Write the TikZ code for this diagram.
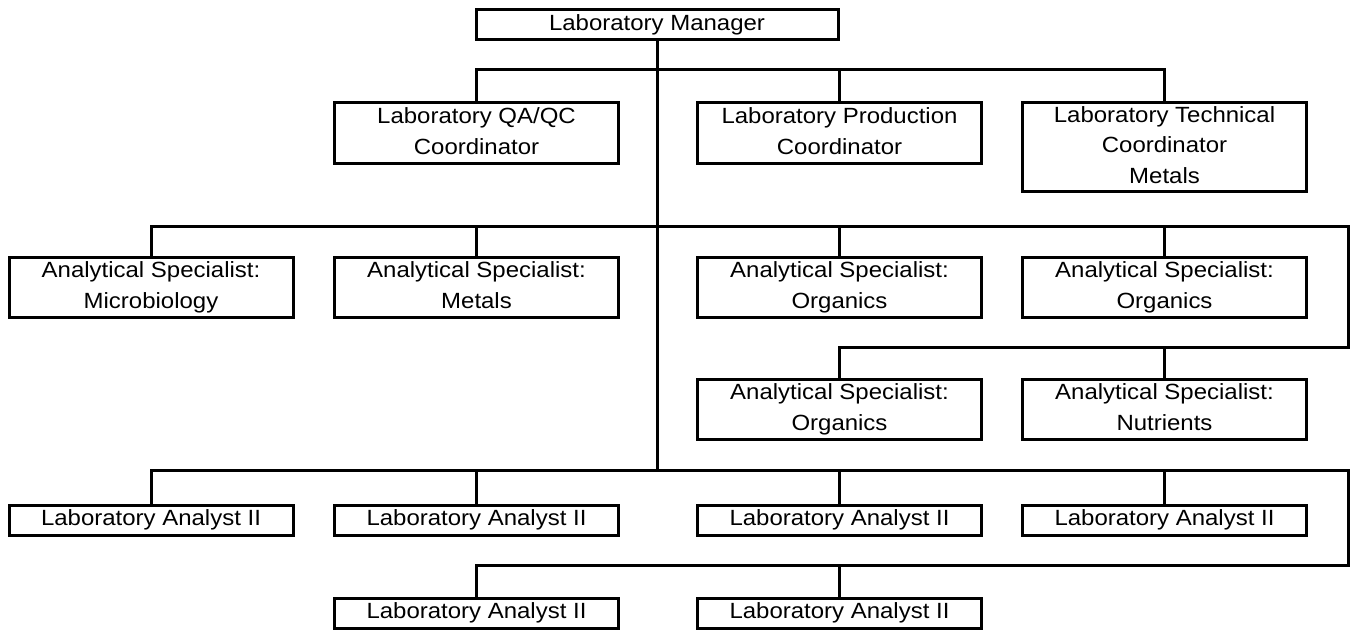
\documentclass[tikz,border=0pt]{standalone}
\usepackage{fontspec}
\setmainfont{Liberation Sans}[FakeStretch=1.09]
\usepackage{tikz}

\begin{document}
\begin{tikzpicture}[x=0.5pt, y=-0.5pt, line width=1.5pt,
    caixa/.style={draw, line width=1.5pt, minimum width=142pt, minimum height=30pt,
        inner sep=0pt, align=center, text depth=0.22em,
        font=\fontsize{11pt}{15.3pt}\selectfont},
    caixabaixa/.style={caixa, minimum height=15pt}]
    \useasboundingbox (0,0) rectangle (1354,630);

    % gerente
    \node[caixabaixa, minimum width=181pt] (mgr) at (657,25) {Laboratory Manager};

    % coordenadores
    \node[caixa, minimum height=30.5pt] (qaqc) at (476.5,133) {Laboratory QA/QC\\Coordinator};
    \node[caixa, minimum height=30.5pt] (prod) at (839.5,133) {Laboratory Production\\Coordinator};
    \node[caixa, minimum height=44.5pt] (tech) at (1164.5,147) {Laboratory Technical\\Coordinator\\Metals};

    % especialistas
    \node[caixa] (micro) at (151,287.5) {Analytical Specialist:\\Microbiology};
    \node[caixa] (metals) at (476.5,287.5) {Analytical Specialist:\\Metals};
    \node[caixa] (orgA) at (839.5,287.5) {Analytical Specialist:\\Organics};
    \node[caixa] (orgB) at (1164.5,287.5) {Analytical Specialist:\\Organics};
    \node[caixa] (orgC) at (839.5,409.5) {Analytical Specialist:\\Organics};
    \node[caixa] (nutr) at (1164.5,409.5) {Analytical Specialist:\\Nutrients};

    % analistas
    \node[caixabaixa] (anA) at (151,520) {Laboratory Analyst II};
    \node[caixabaixa] (anB) at (476.5,520) {Laboratory Analyst II};
    \node[caixabaixa] (anC) at (839.5,520) {Laboratory Analyst II};
    \node[caixabaixa] (anD) at (1164.5,520) {Laboratory Analyst II};
    \node[caixabaixa] (anE) at (476.5,613) {Laboratory Analyst II};
    \node[caixabaixa] (anF) at (839.5,613) {Laboratory Analyst II};

    % pontos das barras
    \coordinate (b1) at (657,70);
    \coordinate (r2) at (1348,227);
    \coordinate (r3) at (1348,348);
    \coordinate (r4) at (1348,470);
    \coordinate (r5) at (1348,565);

    % tronco
    \draw (mgr.south) -- (mgr.south |- r4);

    % barra dos coordenadores
    \draw (qaqc.north) |- (b1) -| (tech.north);
    \draw (prod.north) -- (prod.north |- b1);

    % barra dos especialistas
    \draw (micro.north) |- (r2) -- (r3) -| (orgC.north);
    \foreach \n in {metals,orgA,orgB}
        \draw (\n.north) -- (\n.north |- r2);
    \draw (nutr.north) -- (nutr.north |- r3);

    % barra dos analistas
    \draw (anA.north) |- (r4) -- (r5) -| (anE.north);
    \foreach \n in {anB,anC,anD}
        \draw (\n.north) -- (\n.north |- r4);
    \draw (anF.north) -- (anF.north |- r5);

\end{tikzpicture}
\end{document}
